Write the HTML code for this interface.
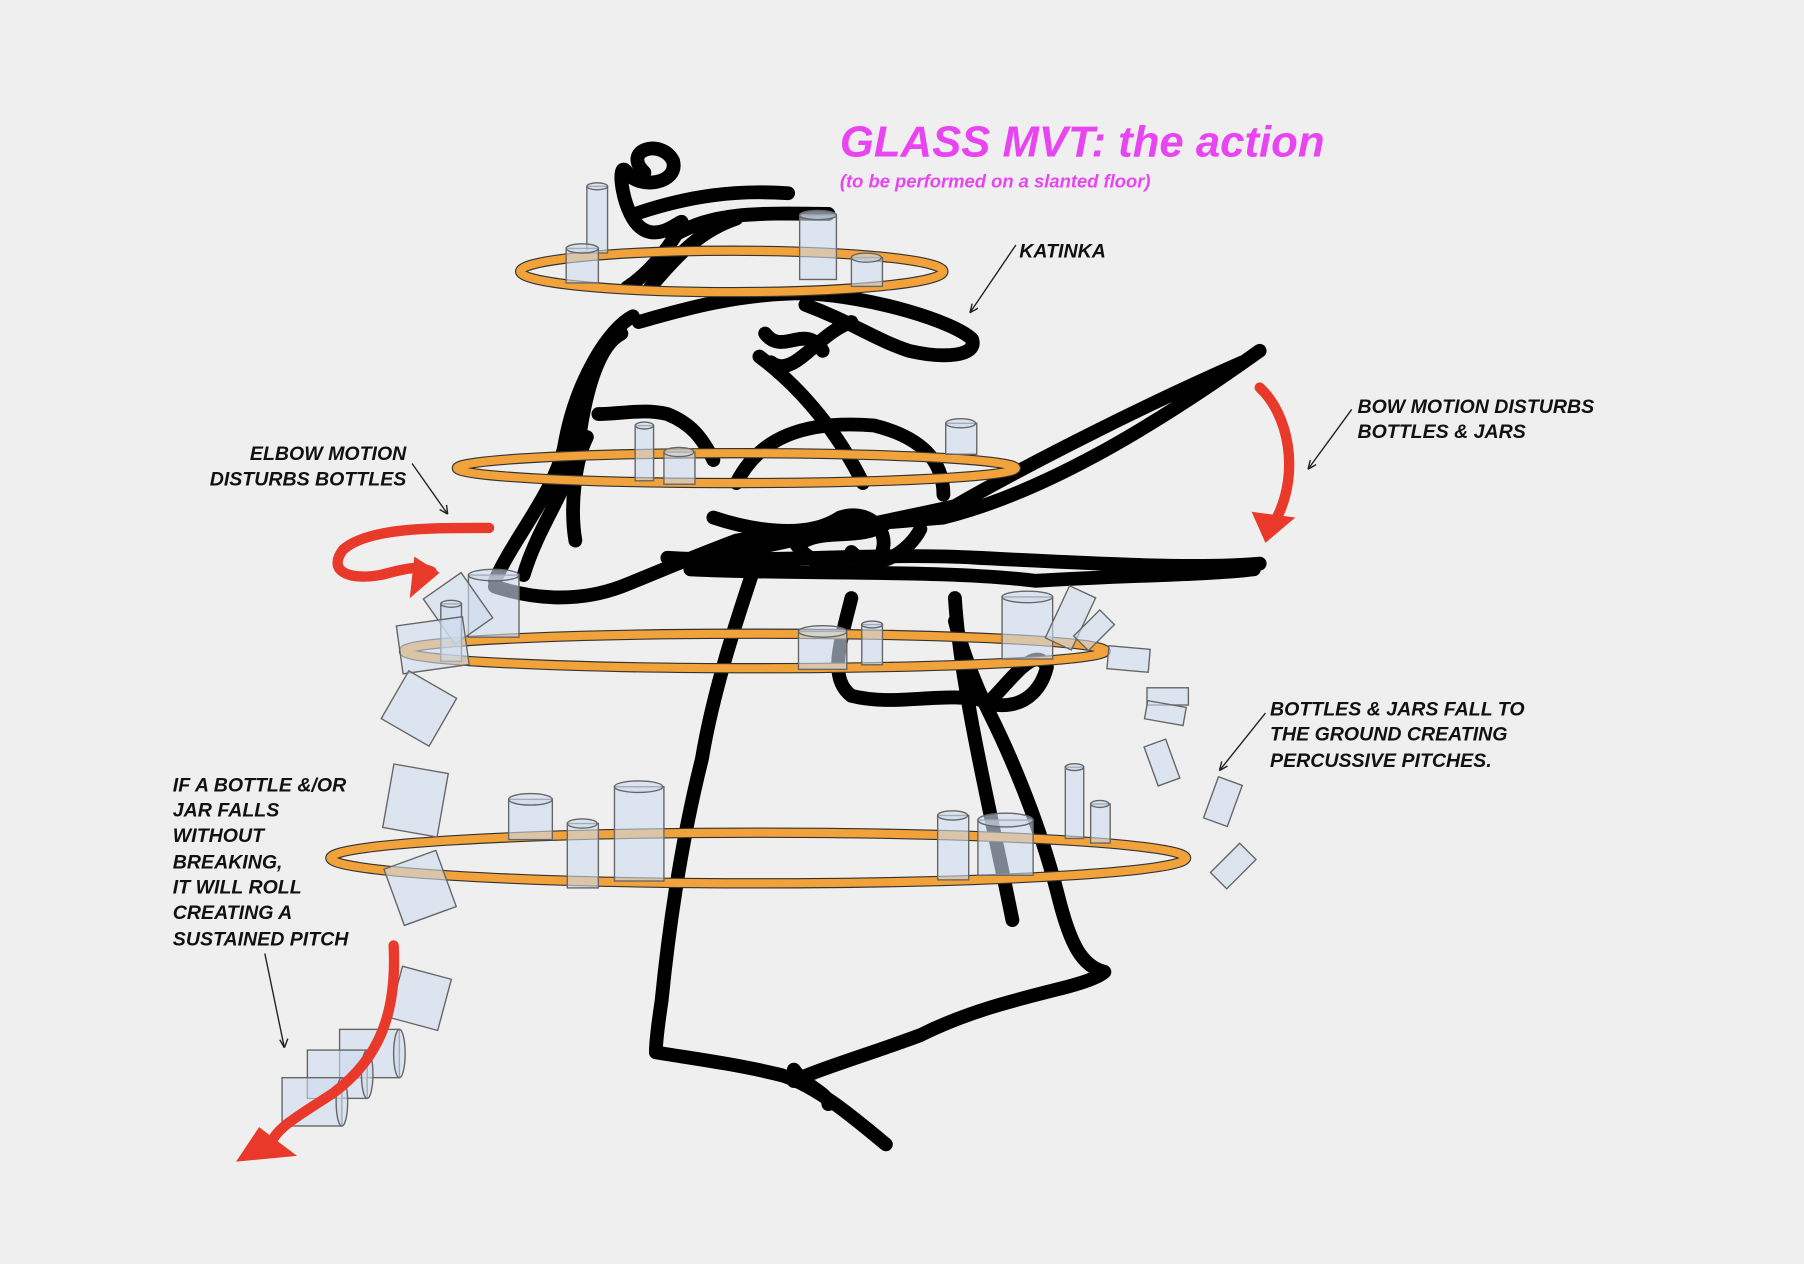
<!DOCTYPE html>
<html><head><meta charset="utf-8"><style>
html,body{margin:0;padding:0;background:#efefef;}
svg{display:block;}
.lbl{font-family:"Liberation Sans",sans-serif;font-weight:bold;font-style:italic;font-size:17px;fill:#111;}
.blk{fill:none;stroke:#000;stroke-width:12;stroke-linecap:round;stroke-linejoin:round;}
.red{fill:none;stroke:#e8392a;stroke-width:9;stroke-linecap:round;}
.g rect,.g ellipse{fill:rgba(205,220,238,0.6);stroke:#666;stroke-width:1.2;}
.ring1{fill:none;stroke:#333;stroke-width:9;}
.ring2{fill:none;stroke:#f2a23a;stroke-width:7;}
.ar{fill:none;stroke:#222;stroke-width:1.2;}
</style></head><body>
<svg width="1804" height="1264" viewBox="0 0 1568 1099" xmlns="http://www.w3.org/2000/svg">
<rect width="1568" height="1099" fill="#efefef"/>
<text x="730" y="136" font-family="Liberation Sans,sans-serif" font-weight="bold" font-style="italic" font-size="38" fill="#e844f2">GLASS MVT: the action</text>
<text x="730" y="163" font-family="Liberation Sans,sans-serif" font-weight="bold" font-style="italic" font-size="16" fill="#e844f2">(to be performed on a slanted floor)</text>

<!-- figure scribbles -->
<path class="blk" d="M560,150 C540,130 575,120 585,140 C590,160 555,165 545,150 C535,135 540,190 560,200 C580,210 600,180 590,200 C575,225 560,240 545,250"/>
<path class="blk" d="M555,185 C600,170 640,165 685,168 M585,205 C620,185 650,185 720,186 M565,250 C590,220 610,200 640,190"/>
<path class="blk" d="M540,290 C520,300 510,340 505,370 C500,420 470,450 455,500 M550,275 C530,285 500,330 490,390 C480,430 445,470 430,505"/>
<path class="blk" d="M555,280 C590,270 640,255 700,255 C760,258 830,280 845,295 C850,310 820,312 790,305 C760,295 740,280 700,265"/>
<path class="blk" d="M665,290 C680,310 700,280 715,305 M670,315 C690,330 710,290 740,280 M660,310 C700,340 730,380 750,420"/>
<path class="blk" d="M520,360 C540,360 560,355 580,360 C600,368 610,380 620,400 M510,380 C500,400 495,440 500,470 M640,420 C660,380 700,365 760,370 C800,380 820,400 820,430"/>
<path class="blk" d="M430,510 C460,520 500,525 540,510 C570,498 600,485 640,470 C700,460 760,455 820,450 C900,430 990,380 1095,305 M600,490 C680,470 740,460 830,440 C900,400 1000,350 1080,315 M580,485 C660,490 760,480 850,485 C950,490 1040,495 1095,490 M600,495 C700,500 820,495 900,505 C980,500 1050,500 1090,495"/>
<path class="blk" d="M620,450 C650,460 700,470 730,450 C760,440 780,470 760,490 C740,505 700,490 690,470 M700,470 C720,460 750,470 770,455 M740,480 C760,500 790,480 800,460"/>
<path class="blk" d="M655,495 C640,540 620,600 610,660 C590,740 580,820 575,870 C572,890 570,905 570,915 C600,920 640,925 680,935 C710,945 740,970 770,995"/>
<path class="blk" d="M690,930 C700,945 720,950 720,960 M690,940 C710,930 760,915 800,900 C840,880 880,870 920,860 C940,855 955,850 960,845 C940,840 930,820 920,780 C905,720 880,660 860,620 C845,590 835,560 830,540"/>
<path class="blk" d="M740,520 C730,560 720,590 740,605 C780,615 820,600 860,610 C880,590 900,560 910,580 C900,620 860,620 840,600 M830,520 C835,600 860,700 880,800"/>

<!-- rings -->
<ellipse class="ring1" cx="636" cy="236" rx="184" ry="18"/><ellipse class="ring2" cx="636" cy="236" rx="184" ry="18"/>
<ellipse class="ring1" cx="640" cy="407" rx="243" ry="13"/><ellipse class="ring2" cx="640" cy="407" rx="243" ry="13"/>
<ellipse class="ring1" cx="656" cy="566" rx="305" ry="15"/><ellipse class="ring2" cx="656" cy="566" rx="305" ry="15"/>
<ellipse class="ring1" cx="659" cy="746" rx="372" ry="22"/><ellipse class="ring2" cx="659" cy="746" rx="372" ry="22"/>

<!-- glasses -->
<g class="g">
<rect x="510" y="162" width="18" height="58"/><ellipse cx="519" cy="162" rx="9" ry="3"/>
<rect x="492" y="216" width="28" height="30"/><ellipse cx="506" cy="216" rx="14" ry="4"/>
<rect x="695" y="187" width="32" height="56"/><ellipse cx="711" cy="187" rx="16" ry="4"/>
<rect x="740" y="224" width="27" height="25"/><ellipse cx="753" cy="224" rx="13" ry="4"/>
<rect x="552" y="370" width="16" height="48"/><ellipse cx="560" cy="370" rx="8" ry="3"/>
<rect x="577" y="393" width="27" height="28"/><ellipse cx="590" cy="393" rx="13" ry="4"/>
<rect x="822" y="368" width="27" height="27"/><ellipse cx="835" cy="368" rx="13" ry="4"/>
<rect x="407" y="500" width="44" height="54"/><ellipse cx="429" cy="500" rx="22" ry="5"/>
<rect x="378" y="505" width="40" height="48" transform="rotate(-35 398 529)"/>
<rect x="383" y="525" width="18" height="50"/><ellipse cx="392" cy="525" rx="9" ry="3"/>
<rect x="347" y="540" width="58" height="42" transform="rotate(-8 376 561)"/>
<rect x="694" y="549" width="42" height="33"/><ellipse cx="715" cy="549" rx="21" ry="5"/>
<rect x="749" y="543" width="18" height="35"/><ellipse cx="758" cy="543" rx="9" ry="3"/>
<rect x="871" y="519" width="44" height="54"/><ellipse cx="893" cy="519" rx="22" ry="5"/>
<rect x="918" y="512" width="25" height="50" transform="rotate(25 930 537)"/>
<rect x="942" y="532" width="18" height="32" transform="rotate(45 951 548)"/>
<rect x="963" y="563" width="36" height="20" transform="rotate(5 981 573)"/>
<rect x="997" y="598" width="36" height="15"/>
<rect x="996" y="612" width="34" height="16" transform="rotate(10 1013 620)"/>
<rect x="1000" y="645" width="20" height="36" transform="rotate(-20 1010 663)"/>
<rect x="1052" y="678" width="22" height="38" transform="rotate(20 1063 697)"/>
<rect x="1062" y="735" width="20" height="36" transform="rotate(45 1072 753)"/>
<rect x="340" y="592" width="48" height="48" transform="rotate(30 364 616)"/>
<rect x="337" y="668" width="48" height="56" transform="rotate(10 361 696)"/>
<rect x="341" y="746" width="48" height="52" transform="rotate(-20 365 772)"/>
<rect x="343" y="845" width="44" height="46" transform="rotate(15 365 868)"/>
<rect x="442" y="695" width="38" height="35"/><ellipse cx="461" cy="695" rx="19" ry="5"/>
<rect x="493" y="716" width="27" height="56"/><ellipse cx="506" cy="716" rx="13" ry="4"/>
<rect x="534" y="684" width="43" height="82"/><ellipse cx="555" cy="684" rx="21" ry="5"/>
<rect x="815" y="709" width="27" height="56"/><ellipse cx="828" cy="709" rx="13" ry="4"/>
<rect x="850" y="713" width="48" height="48"/><ellipse cx="874" cy="713" rx="24" ry="6"/>
<rect x="926" y="667" width="16" height="62"/><ellipse cx="934" cy="667" rx="8" ry="3"/>
<rect x="948" y="699" width="17" height="34"/><ellipse cx="956" cy="699" rx="8" ry="3"/>
<rect x="295" y="895" width="52" height="42"/><ellipse cx="347" cy="916" rx="5" ry="21"/>
<rect x="267" y="913" width="52" height="42"/><ellipse cx="319" cy="934" rx="5" ry="21"/>
<rect x="245" y="937" width="52" height="42"/><ellipse cx="297" cy="958" rx="5" ry="21"/>
</g>

<!-- red arrows -->
<path class="red" d="M425,459 C380,459 320,458 298,478 C285,495 300,505 330,500 C345,497 360,490 375,497"/>
<path fill="#e8392a" d="M360,484 L382,498 L356,520 Z"/>
<path class="red" d="M1095,337 C1120,360 1130,410 1110,450"/>
<path fill="#e8392a" d="M1088,445 L1126,450 L1100,472 Z"/>
<path class="red" d="M342,822 C345,880 330,920 290,950 C260,970 240,980 235,995"/>
<path fill="#e8392a" d="M205,1010 L225,980 L258,1005 Z"/>

<!-- annotation arrows -->
<g class="ar">
<path d="M883,213 L843,272 M843,272 l2,-8 M843,272 l7,-4"/>
<path d="M1175,356 L1137,408 M1137,408 l2,-8 M1137,408 l7,-4"/>
<path d="M358,403 L389,447 M389,447 l-7,-4 M389,447 l-1,-8"/>
<path d="M1100,620 L1060,670 M1060,670 l2,-8 M1060,670 l7,-4"/>
<path d="M230,829 L247,911 M247,911 l-4,-7 M247,911 l3,-8"/>
</g>

<text class="lbl" x="886" y="224">KATINKA</text>
<text class="lbl" x="1180" y="359">BOW MOTION DISTURBS</text>
<text class="lbl" x="1180" y="381">BOTTLES &amp; JARS</text>
<text class="lbl" x="353" y="400" text-anchor="end">ELBOW MOTION</text>
<text class="lbl" x="353" y="422" text-anchor="end">DISTURBS BOTTLES</text>
<text class="lbl" x="1104" y="622">BOTTLES &amp; JARS FALL TO</text>
<text class="lbl" x="1104" y="644">THE GROUND CREATING</text>
<text class="lbl" x="1104" y="667">PERCUSSIVE PITCHES.</text>
<text class="lbl" x="150" y="688">IF A BOTTLE &amp;/OR</text>
<text class="lbl" x="150" y="710">JAR FALLS</text>
<text class="lbl" x="150" y="732">WITHOUT</text>
<text class="lbl" x="150" y="755">BREAKING,</text>
<text class="lbl" x="150" y="777">IT WILL ROLL</text>
<text class="lbl" x="150" y="799">CREATING A</text>
<text class="lbl" x="150" y="822">SUSTAINED PITCH</text>
</svg>
</body></html>
